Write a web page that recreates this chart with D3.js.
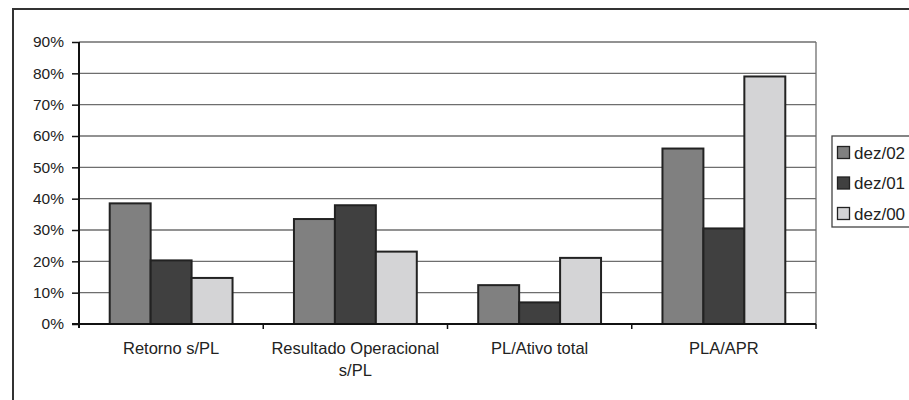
<!DOCTYPE html>
<html>
<head>
<meta charset="utf-8">
<script src="https://cdn.jsdelivr.net/npm/d3@7/dist/d3.min.js"></script>
<style>
html,body{margin:0;padding:0;background:#fff;}
svg{display:block;font-family:"Liberation Sans",Arial,sans-serif;}
</style>
</head>
<body>
<svg id="chart" width="909" height="400"></svg>
<script>
const categories = [["Retorno s/PL"], ["Resultado Operacional", "s/PL"], ["PL/Ativo total"], ["PLA/APR"]];
const seriesNames = ["dez/02", "dez/01", "dez/00"];
const dez02 = [38.5, 33.5, 12.4, 56.0];
const dez01 = [20.3, 37.9, 6.9, 30.5];
const dez00 = [14.7, 23.1, 21.1, 79.0];
const yTicks = [0, 10, 20, 30, 40, 50, 60, 70, 80, 90];
const colors = ["#808080", "#404040", "#d4d4d6"];

(function() {
const series = [dez02, dez01, dez00];
const svg = d3.select("#chart");

// outer frame
svg.append("rect").attr("x", 13).attr("y", 9).attr("width", 920).attr("height", 420)
  .attr("fill", "none").attr("stroke", "#333").attr("stroke-width", 2);

const pLeft = 79, pRight = 816, pTop = 42, pBottom = 324;
const x = d3.scaleBand().domain(d3.range(categories.length)).range([pLeft, pRight]).paddingInner(0).paddingOuter(0);
const x1 = d3.scaleBand().domain(d3.range(series.length)).range([0, x.bandwidth()]).paddingInner(0).paddingOuter(0.75);
const y = d3.scaleLinear().domain([0, 90]).range([pBottom, pTop]);

// gridlines
svg.append("g").selectAll("line").data(yTicks.filter(d => d > 0)).join("line")
  .attr("x1", pLeft).attr("x2", pRight).attr("y1", d => y(d)).attr("y2", d => y(d))
  .attr("stroke", "#6e6e6e").attr("stroke-width", 1.3);
// right border of plot
svg.append("line").attr("x1", pRight).attr("x2", pRight).attr("y1", pTop).attr("y2", pBottom)
  .attr("stroke", "#6e6e6e").attr("stroke-width", 1.3);

// bars
const g = svg.append("g");
series.forEach((vals, si) => {
  g.selectAll(null).data(vals).join("rect")
    .attr("x", (d, i) => x(i) + x1(si))
    .attr("y", d => y(d))
    .attr("width", x1.bandwidth())
    .attr("height", d => y(0) - y(d))
    .attr("fill", colors[si])
    .attr("stroke", "#222").attr("stroke-width", 2);
});

// y axis
const yAxis = d3.axisLeft(y).tickValues(yTicks).tickFormat(d => d + "%").tickSize(7).tickPadding(8);
const ya = svg.append("g").attr("transform", `translate(${pLeft},0)`).call(yAxis);
ya.select(".domain").attr("stroke", "#111").attr("stroke-width", 2).attr("d", `M0,${pTop}V${pBottom + 4}`);
ya.selectAll(".tick line").attr("stroke", "#111").attr("stroke-width", 1.5);
ya.selectAll(".tick text").attr("font-size", 15.5).attr("fill", "#222").attr("font-family", "Liberation Sans, Arial, sans-serif");

// x axis
const xa = svg.append("g").attr("transform", `translate(0,${pBottom})`);
xa.append("line").attr("x1", pLeft - 7).attr("x2", pRight).attr("y1", 0).attr("y2", 0)
  .attr("stroke", "#111").attr("stroke-width", 2);
xa.selectAll(".xt").data(d3.range(1, categories.length + 1)).join("line")
  .attr("x1", i => pLeft + i * x.bandwidth()).attr("x2", i => pLeft + i * x.bandwidth())
  .attr("y1", 0).attr("y2", 5).attr("stroke", "#111").attr("stroke-width", 1.5);
xa.selectAll(".xl").data(categories).join("text")
  .attr("x", (d, i) => x(i) + x.bandwidth() / 2)
  .attr("y", 30)
  .attr("text-anchor", "middle").attr("font-size", 16.5).attr("fill", "#222")
  .each(function(d) {
    const t = d3.select(this);
    d.forEach((line, k) => t.append("tspan").attr("x", t.attr("x")).attr("dy", k === 0 ? 0 : 21.5).text(line));
  });

// legend
const lg = svg.append("g");
lg.append("rect").attr("x", 832).attr("y", 136).attr("width", 100).attr("height", 91)
  .attr("fill", "#fff").attr("stroke", "#444").attr("stroke-width", 1.3);
seriesNames.forEach((n, i) => {
  const cy = 152.5 + i * 30.5;
  lg.append("rect").attr("x", 837.5).attr("y", cy - 6).attr("width", 12).attr("height", 12)
    .attr("fill", colors[i]).attr("stroke", "#222").attr("stroke-width", 1.3);
  lg.append("text").attr("x", 854).attr("y", cy + 6).attr("font-size", 17).attr("fill", "#222").text(n);
});
})();
</script>
</body>
</html>
